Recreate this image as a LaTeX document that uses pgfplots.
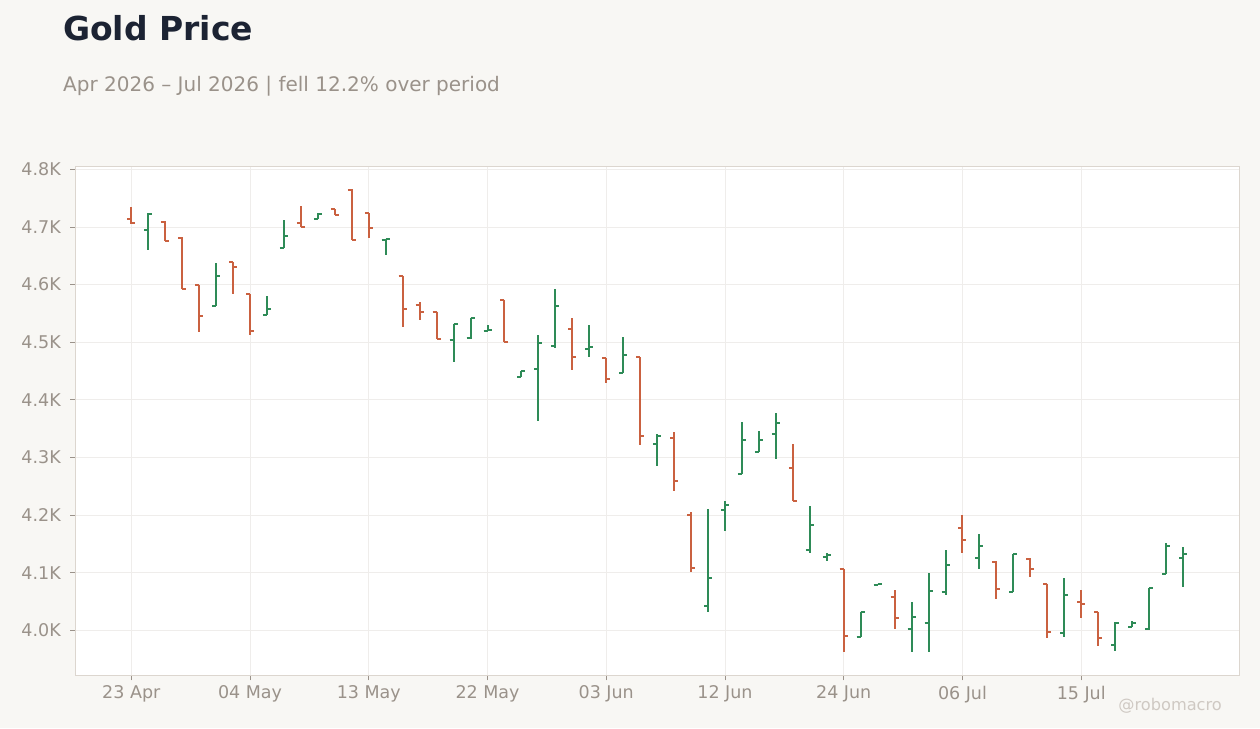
\documentclass[border=0pt]{standalone}
\usepackage{fontspec}
\setmainfont{DejaVu Sans}
\usepackage{pgfplots}
\usepackage{pgfplotstable}
\pgfplotsset{compat=1.18}

\definecolor{bgc}{HTML}{F8F7F4}
\definecolor{framec}{HTML}{DCD6CF}
\definecolor{gridc}{HTML}{EFEDEB}
\definecolor{tickc}{HTML}{9A928A}
\definecolor{titlec}{HTML}{1C2333}
\definecolor{wmc}{HTML}{CFC9C3}
\definecolor{up}{HTML}{2E8B57}
\definecolor{dn}{HTML}{CA6140}

% open tick to the left, close tick to the right
\pgfdeclareplotmark{otick}{\pgfpathmoveto{\pgfpoint{-\pgfplotmarksize}{0pt}}\pgfpathlineto{\pgfpoint{0pt}{0pt}}\pgfusepathqstroke}
\pgfdeclareplotmark{ctick}{\pgfpathmoveto{\pgfpoint{0pt}{0pt}}\pgfpathlineto{\pgfpoint{\pgfplotmarksize}{0pt}}\pgfusepathqstroke}

% trading day index, open, high, low, close
\pgfplotstableread{
i  O    H    L    C
0  4713 4734 4705 4706
2  4708 4710 4676 4676
3  4681 4682 4593 4593
4  4600 4600 4517 4546
6  4639 4639 4583 4631
7  4583 4583 4513 4520
10 4706 4737 4700 4700
12 4731 4731 4720 4720
13 4764 4766 4678 4678
14 4724 4725 4680 4699
16 4615 4615 4526 4557
17 4564 4570 4539 4553
18 4553 4553 4506 4506
22 4574 4574 4500 4500
26 4523 4542 4451 4475
28 4472 4472 4429 4437
30 4474 4474 4321 4338
32 4333 4344 4241 4259
33 4201 4206 4101 4108
39 4281 4323 4225 4225
42 4106 4106 3963 3990
45 4058 4070 4003 4022
49 4177 4201 4135 4156
51 4118 4120 4054 4071
53 4123 4125 4092 4106
54 4081 4081 3986 3998
56 4050 4070 4021 4045
57 4031 4031 3973 3986
}\down

\pgfplotstableread{
i  O    H    L    C
1  4695 4724 4660 4723
5  4562 4637 4562 4615
8  4548 4580 4548 4557
9  4664 4712 4664 4684
11 4714 4724 4714 4723
15 4678 4679 4651 4679
19 4503 4532 4466 4532
20 4508 4542 4505 4542
21 4520 4530 4520 4522
23 4440 4450 4440 4450
24 4454 4513 4364 4499
25 4494 4593 4490 4562
27 4489 4530 4475 4491
29 4447 4509 4447 4477
31 4324 4341 4286 4337
34 4043 4210 4031 4091
35 4209 4224 4173 4217
36 4272 4361 4272 4330
37 4310 4346 4310 4331
38 4340 4377 4297 4359
40 4140 4215 4135 4182
41 4128 4135 4120 4130
43 3988 4031 3988 4031
44 4079 4080 4079 4080
46 4003 4049 3963 4024
47 4013 4100 3963 4069
48 4067 4140 4062 4114
50 4126 4168 4107 4146
52 4067 4132 4067 4132
55 3996 4090 3988 4062
58 3975 4015 3965 4013
59 4005 4017 4005 4012
60 4002 4073 4000 4073
61 4097 4151 4097 4147
62 4126 4144 4076 4132
}\up

\begin{document}
\begin{tikzpicture}
\useasboundingbox[fill=bgc] (0,0) rectangle (1260pt,-728pt);
\node[anchor=base west, text=titlec, font=\fontsize{33}{38}\selectfont\bfseries, inner sep=0pt]
  at (63pt,-40.5pt) {Gold Price};
\node[anchor=base west, text=tickc, font=\fontsize{20}{24}\selectfont, inner sep=0pt]
  at (63pt,-91.7pt) {Apr 2026 – Jul 2026 | fell 12.2\% over period};
\node[anchor=base east, text=wmc, font=\fontsize{16.2}{19}\selectfont, inner sep=0pt]
  at (1222pt,-710pt) {@robomacro};

\begin{axis}[
    at={(75.3pt,-675.3pt)}, anchor=south west,
    width=1163.7pt, height=508.6pt, scale only axis,
    xmin=-3.3, xmax=65.3,
    ymin=3922, ymax=4804.5,
    axis background/.style={fill=white},
    axis line style={color=framec, line width=0.8pt},
    grid=major,
    grid style={color=gridc, line width=0.7pt},
    tick align=outside,
    major tick length=5pt,
    tick style={color=tickc, line width=0.8pt},
    xtick={0,7,...,56},
    xticklabels={23 Apr,04 May,13 May,22 May,03 Jun,12 Jun,24 Jun,06 Jul,15 Jul},
    ytick={4000,4100,...,4800},
    yticklabels={4.0K,4.1K,4.2K,4.3K,4.4K,4.5K,4.6K,4.7K,4.8K},
    tick label style={font=\fontsize{17.5}{20}\selectfont, text=tickc},
    yticklabel style={xshift=-6pt},
    xticklabel style={yshift=-2pt},
    xtick pos=bottom, ytick pos=left,
    clip=false,
]
\addplot[only marks, mark=otick, mark size=4pt, color=dn, mark options={line width=2pt, solid},
    error bars/.cd, y dir=both, y explicit, error mark=none,
    error bar style={line width=2pt, color=dn, solid}]
  table[x=i, y=O, y error plus expr=\thisrow{H}-\thisrow{O}, y error minus expr=\thisrow{O}-\thisrow{L}] {\down};
\addplot[only marks, mark=ctick, mark size=4pt, color=dn, mark options={line width=2pt, solid}]
  table[x=i, y=C] {\down};
\addplot[only marks, mark=otick, mark size=4pt, color=up, mark options={line width=2pt, solid},
    error bars/.cd, y dir=both, y explicit, error mark=none,
    error bar style={line width=2pt, color=up, solid}]
  table[x=i, y=O, y error plus expr=\thisrow{H}-\thisrow{O}, y error minus expr=\thisrow{O}-\thisrow{L}] {\up};
\addplot[only marks, mark=ctick, mark size=4pt, color=up, mark options={line width=2pt, solid}]
  table[x=i, y=C] {\up};
\end{axis}
\end{tikzpicture}
\end{document}
